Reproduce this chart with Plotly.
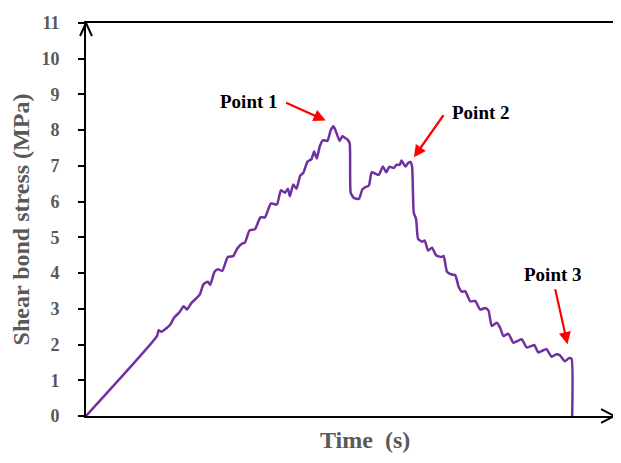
import plotly.graph_objects as go

# Data (time in arbitrary units 0-100, stress in MPa)
time_s = [0, 13.46, 13.77, 14.28, 15.35, 15.97, 16.67, 17.74, 18.49, 19.12,
          19.94, 21.51, 22.26, 23.08, 23.52, 24.34, 24.97, 25.79, 26.86, 27.92,
          28.62, 29.50, 30.13, 30.94, 32.01, 33.02, 33.90, 35.03, 36.16, 36.92,
          37.67, 38.24, 38.62, 39.25, 39.87, 40.57, 41.13, 41.95, 42.70, 43.21,
          43.71, 44.28, 44.91, 45.72, 46.35, 46.86, 47.30, 48.05, 48.55, 48.99,
          49.50, 49.94, 50.13, 50.75, 51.70, 52.33, 52.96, 53.58, 54.09, 54.84,
          55.47, 56.23, 56.86, 57.48, 58.30, 58.80, 59.43, 59.75, 60.50, 61.01,
          61.45, 61.76, 62.08, 62.52, 62.89, 63.65, 64.15, 64.78, 65.53, 66.29,
          67.30, 67.74, 68.37, 69.31, 69.94, 70.57, 71.19, 71.83, 72.77, 73.71,
          74.66, 75.60, 76.23, 76.85, 77.80, 78.43, 79.06, 80.00, 80.94, 81.76,
          82.52, 83.46, 84.40, 84.91, 85.66, 86.60, 87.23, 88.18, 89.12, 89.75,
          90.69, 91.45, 91.95, 92.08]

stress_mpa = [0, 2.24, 2.40, 2.36, 2.47, 2.56, 2.75, 2.91, 3.07, 2.98,
              3.16, 3.39, 3.69, 3.76, 3.67, 4.04, 4.11, 4.06, 4.45, 4.48,
              4.68, 4.82, 4.86, 5.19, 5.23, 5.56, 5.56, 5.95, 5.92, 6.32,
              6.25, 6.36, 6.15, 6.48, 6.36, 6.73, 6.80, 7.12, 7.19, 7.40,
              7.21, 7.55, 7.72, 7.70, 8.00, 8.11, 7.98, 7.70, 7.83, 7.79,
              7.74, 7.63, 6.25, 6.10, 6.08, 6.34, 6.41, 6.45, 6.82, 6.78,
              6.75, 6.98, 6.82, 6.98, 6.94, 7.03, 7.03, 7.15, 6.98, 7.08,
              7.11, 6.98, 5.69, 5.51, 4.96, 4.88, 4.91, 4.63, 4.71, 4.50,
              4.45, 4.48, 4.04, 3.96, 3.94, 3.62, 3.48, 3.49, 3.21, 3.22,
              2.98, 3.02, 2.95, 2.52, 2.61, 2.47, 2.24, 2.30, 2.05, 2.10,
              2.15, 1.92, 1.96, 1.99, 1.78, 1.84, 1.87, 1.66, 1.73, 1.70,
              1.53, 1.62, 1.60, 0]

y_ticks = list(range(0, 12))
point_labels = ["Point 1", "Point 2", "Point 3"]
x_title = "Time\u00a0\u00a0(s)"
y_title = "Shear bond stress (MPa)"

FONT = "Liberation Serif, Times New Roman, serif"
GRAY = "#595959"

fig = go.Figure()
fig.add_trace(go.Scatter(
    x=time_s, y=stress_mpa, mode="lines",
    line=dict(color="#7030A0", width=2.5, shape="spline", smoothing=0.5),
    showlegend=False, hoverinfo="skip", cliponaxis=False,
))

# annotation geometry (text centre, arrow tail, arrow tip) in data units
label_pos = [(30.9, 8.79), (74.8, 8.49), (88.5, 3.95)]
arrow_tail = [(37.6, 8.79), (67.9, 8.46), (88.8, 3.59)]
arrow_tip = [(45.4, 8.27), (62.1, 7.24), (91.2, 2.01)]

annotations = []
for lab, (tx, ty), (ax, ay), (hx, hy) in zip(point_labels, label_pos, arrow_tail, arrow_tip):
    annotations.append(dict(x=tx, y=ty, xref="x", yref="y", text="<b>%s</b>" % lab,
                            showarrow=False, font=dict(family=FONT, size=19, color="black")))
    annotations.append(dict(x=hx, y=hy, ax=ax, ay=ay, xref="x", yref="y",
                            axref="x", ayref="y", text="", showarrow=True,
                            arrowhead=2, arrowsize=1.1, arrowwidth=2.2,
                            arrowcolor="#FF0000"))

# x-axis title (placed slightly right of centre as in the reference)
annotations.append(dict(x=0.528, y=-0.06, xref="paper", yref="paper",
                        xanchor="center", yanchor="middle", showarrow=False,
                        text="<b>%s</b>" % x_title,
                        font=dict(family=FONT, size=24, color=GRAY)))

fig.update_layout(
    width=613, height=455,
    margin=dict(l=78, r=5, t=10, b=47),
    plot_bgcolor="white", paper_bgcolor="white",
    font=dict(family=FONT),
    annotations=annotations,
    shapes=[
        dict(type="path", xref="paper", yref="paper",
             path="M -0.0113,0.967 L 0,1 L 0.0113,0.967",
             line=dict(color="black", width=2)),
        dict(type="path", xref="paper", yref="paper",
             path="M 0.9755,0.0176 L 1,0 L 0.9755,-0.0176",
             line=dict(color="black", width=2)),
    ],
    xaxis=dict(
        range=[0, 100], showgrid=False, zeroline=False,
        showticklabels=False, ticks="",
        showline=True, linecolor="black", linewidth=2, mirror=True,
    ),
    yaxis=dict(
        range=[0, 11], showgrid=False, zeroline=False,
        tickvals=y_ticks, ticktext=["<b>%d</b>" % v for v in y_ticks],
        ticks="outside", ticklen=6, tickwidth=2, tickcolor="black",
        ticklabelstandoff=15,
        tickfont=dict(family=FONT, size=18, color=GRAY),
        showline=True, linecolor="black", linewidth=2, mirror=True,
        title=dict(text="<b>%s</b>" % y_title, standoff=9,
                   font=dict(family=FONT, size=24, color=GRAY)),
    ),
)

fig.write_html("out.html")
